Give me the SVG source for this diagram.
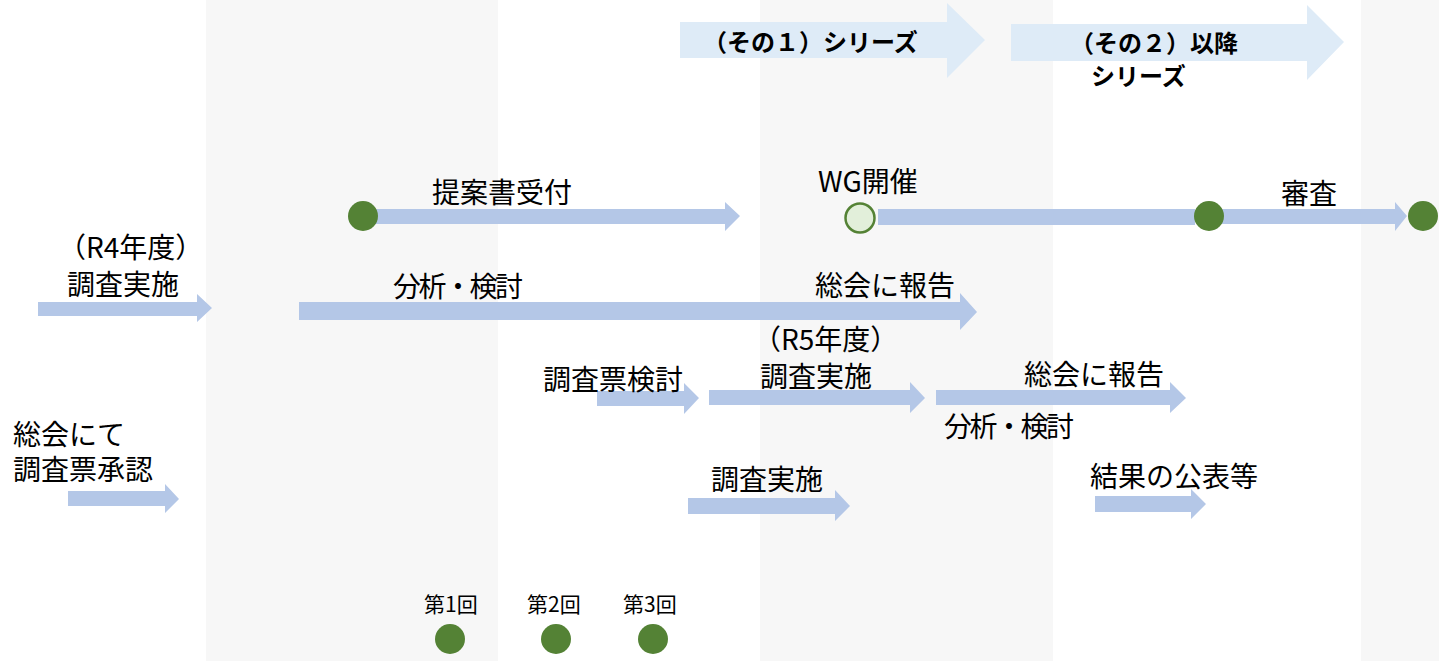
<svg xmlns="http://www.w3.org/2000/svg" width="1439" height="661" viewBox="0 0 1439 661">
<style>
.t{font-family:"Noto Sans CJK JP","Liberation Sans",sans-serif;font-size:28px;fill:#000}
.b{font-family:"Noto Sans CJK JP","Liberation Sans",sans-serif;font-size:24px;font-weight:bold;fill:#000}
.s{font-family:"Noto Sans CJK JP","Liberation Sans",sans-serif;font-size:21px;fill:#000}
.a{fill:#b4c7e7}
.top{fill:#deebf7}
.dot{fill:#548235}
</style>
<rect width="1439" height="661" fill="#ffffff"/>
<g id="bands" fill="#f7f7f7">
<rect x="206" y="0" width="292" height="661"/>
<rect x="760" y="0" width="293" height="661"/>
<rect x="1361" y="0" width="78" height="661"/>
</g>
<g id="connectors">
<polygon class="top" points="680,22 947,22 947,3 985,40 947,78 947,58 680,58"/>
<polygon class="top" points="1011,24 1307,24 1307,5 1344,42 1307,80 1307,61 1011,61"/>
<polygon class="a" points="375,209 725,209 725,202 740,216 725,231 725,224 375,224"/>
<polygon class="a" points="878,209 1195,209 1195,225 878,225"/>
<polygon class="a" points="1220,209 1395,209 1395,202 1407,216 1395,231 1395,224 1220,224"/>
<polygon class="a" points="38,302 197,302 197,294 212,308 197,322 197,316 38,316"/>
<polygon class="a" points="299,302 960,302 960,293 977,312 960,330 960,320 299,320"/>
<polygon class="a" points="597,391 684,391 684,383 699,398 684,414 684,406 597,406"/>
<polygon class="a" points="709,390 910,390 910,382 925,398 910,413 910,405 709,405"/>
<polygon class="a" points="936,390 1170,390 1170,382 1186,398 1170,413 1170,405 936,405"/>
<polygon class="a" points="68,491 165,491 165,484 179,499 165,513 165,506 68,506"/>
<polygon class="a" points="688,498 835,498 835,490 850,506 835,521 835,514 688,514"/>
<polygon class="a" points="1095,496 1191,496 1191,489 1206,504 1191,519 1191,512 1095,512"/>
</g>
<g id="series1"><text class="b" x="703" y="51">（その１）シリーズ</text></g>
<g id="series2"><text class="b"><tspan x="1070" y="52">（その２）以降</tspan><tspan x="1091" y="85">シリーズ</tspan></text></g>
<g id="node-teian"><circle class="dot" cx="363" cy="216" r="15"/><text class="t" x="432" y="203">提案書受付</text></g>
<g id="node-wg"><circle cx="860" cy="218" r="14.5" fill="#e2efda" stroke="#548235" stroke-width="2.5"/><text class="t" x="818" y="192">WG開催</text></g>
<g id="node-m1"><circle class="dot" cx="1209" cy="216" r="15"/></g>
<g id="node-shinsa"><circle class="dot" cx="1423" cy="216" r="15"/><text class="t" x="1281" y="204">審査</text></g>
<g id="label-r4"><text class="t"><tspan x="58" y="258">（R4年度）</tspan><tspan x="67" y="295">調査実施</tspan></text></g>
<g id="label-bunseki1"><text class="t" x="393" y="297" textLength="130" lengthAdjust="spacing">分析・検討</text><text class="t" x="815" y="296">総会に報告</text></g>
<g id="label-r5"><text class="t"><tspan x="753" y="350">（R5年度）</tspan><tspan x="760" y="387">調査実施</tspan></text></g>
<g id="label-chosahyo"><text class="t" x="543" y="390">調査票検討</text></g>
<g id="label-bunseki2"><text class="t" x="1024" y="385">総会に報告</text><text class="t" x="944" y="437" textLength="130" lengthAdjust="spacing">分析・検討</text></g>
<g id="label-shonin"><text class="t"><tspan x="13" y="445">総会にて</tspan><tspan x="13" y="480">調査票承認</tspan></text></g>
<g id="label-chosa2"><text class="t" x="711" y="490">調査実施</text></g>
<g id="label-kekka"><text class="t" x="1090" y="487">結果の公表等</text></g>
<g id="round1"><text class="s" x="424" y="612">第1回</text><circle class="dot" cx="450" cy="639" r="15"/></g>
<g id="round2"><text class="s" x="527" y="612">第2回</text><circle class="dot" cx="556" cy="639" r="15"/></g>
<g id="round3"><text class="s" x="623" y="612">第3回</text><circle class="dot" cx="653" cy="639" r="15"/></g>
</svg>
